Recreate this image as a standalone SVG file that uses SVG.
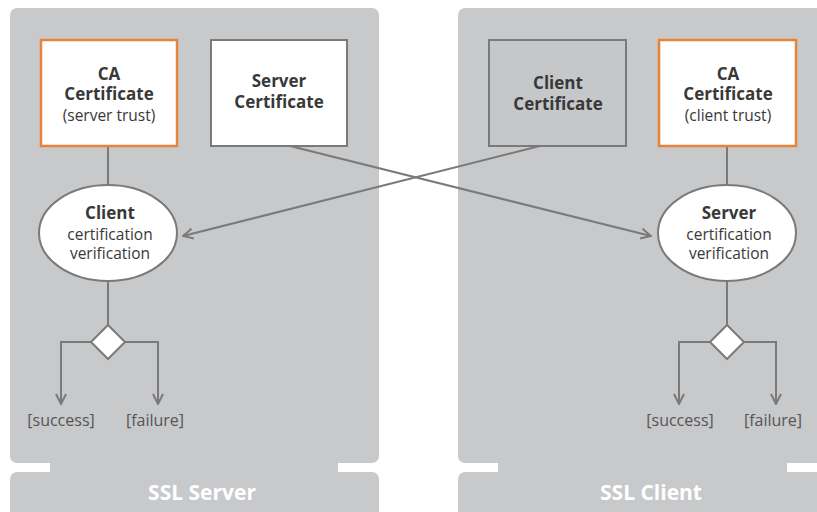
<svg xmlns="http://www.w3.org/2000/svg" width="817" height="512" viewBox="0 0 817 512">
<defs>
<style>
.panel{fill:#c8c9cb}
.line{fill:none;stroke:#7a7a7a;stroke-width:2}
.box{fill:#fff;stroke:#7a7a7a;stroke-width:2}
.ca{fill:#fff;stroke:#e8833a;stroke-width:2.5}
.gbox{fill:#c6c7c9;stroke:#7a7a7a;stroke-width:2}
.ell{fill:#fff;stroke:#7a7a7a;stroke-width:2}
.t{font-family:"Open Sans","Liberation Sans",sans-serif;fill:#383838;text-anchor:middle}
.b{font-weight:bold;font-size:17px}
.r{font-size:15.5px}
.lbl{font-size:16px;fill:#555}
.sys{font-family:"Open Sans","Liberation Sans",sans-serif;font-weight:bold;font-size:21px;fill:#fff;text-anchor:middle}
</style>
<marker id="arr" viewBox="0 0 12 12" refX="11" refY="6" markerWidth="12" markerHeight="12" markerUnits="userSpaceOnUse" orient="auto">
<path d="M1,1 L11,6 L1,11" fill="none" stroke="#7a7a7a" stroke-width="2"/>
</marker>
</defs>
<rect width="817" height="512" fill="#fff"/>
<g id="ssl-server">
<rect class="panel" x="10" y="8" width="369" height="455" rx="7"/>
<rect class="panel" x="50" y="455" width="288" height="25"/>
<rect class="panel" x="10" y="472" width="369" height="50" rx="7"/>
<text class="sys" x="202" y="500">SSL Server</text>
</g>
<g id="ssl-client">
<rect class="panel" x="458" y="8" width="370" height="455" rx="7"/>
<rect class="panel" x="498" y="455" width="289" height="25"/>
<rect class="panel" x="458" y="472" width="370" height="50" rx="7"/>
<text class="sys" x="651" y="500">SSL Client</text>
</g>
<g id="connectors">
<line class="line" x1="108" y1="146" x2="108" y2="185"/>
<line class="line" x1="108" y1="281" x2="108" y2="325"/>
<polyline class="line" points="91,342 61,342 61,404" marker-end="url(#arr)"/>
<polyline class="line" points="125,342 158,342 158,404" marker-end="url(#arr)"/>
<line class="line" x1="727" y1="146" x2="727" y2="185"/>
<line class="line" x1="727" y1="281" x2="727" y2="325"/>
<polyline class="line" points="710,342 679,342 679,404" marker-end="url(#arr)"/>
<polyline class="line" points="744,342 776,342 776,404" marker-end="url(#arr)"/>
<line class="line" x1="290" y1="146" x2="651" y2="236" marker-end="url(#arr)"/>
<line class="line" x1="540" y1="146" x2="183" y2="236" marker-end="url(#arr)"/>
</g>
<g id="ca-server-trust">
<rect class="ca" x="41" y="40" width="136" height="106"/>
<text class="t b" x="109" y="80">CA</text>
<text class="t b" x="109" y="100">Certificate</text>
<text class="t r" x="109" y="121">(server trust)</text>
</g>
<g id="server-certificate">
<rect class="box" x="211" y="40" width="136" height="106"/>
<text class="t b" x="279" y="87">Server</text>
<text class="t b" x="279" y="108">Certificate</text>
</g>
<g id="client-certificate">
<rect class="gbox" x="489" y="40" width="137" height="106"/>
<text class="t b" x="558" y="89">Client</text>
<text class="t b" x="558" y="110">Certificate</text>
</g>
<g id="ca-client-trust">
<rect class="ca" x="659" y="40" width="137" height="106"/>
<text class="t b" x="728" y="80">CA</text>
<text class="t b" x="728" y="100">Certificate</text>
<text class="t r" x="728" y="121">(client trust)</text>
</g>
<g id="client-verification">
<ellipse class="ell" cx="108" cy="233" rx="69" ry="48"/>
<text class="t b" x="110" y="219">Client</text>
<text class="t r" x="110" y="240">certification</text>
<text class="t r" x="110" y="259">verification</text>
</g>
<g id="server-verification">
<ellipse class="ell" cx="727" cy="233" rx="69" ry="48"/>
<text class="t b" x="729" y="219">Server</text>
<text class="t r" x="729" y="240">certification</text>
<text class="t r" x="729" y="259">verification</text>
</g>
<g id="server-decision">
<polygon points="108,325 125,342 108,359 91,342" fill="#fff" stroke="#7a7a7a" stroke-width="2"/>
<text class="t lbl" x="61" y="426">[success]</text>
<text class="t lbl" x="155" y="426">[failure]</text>
</g>
<g id="client-decision">
<polygon points="727,325 744,342 727,359 710,342" fill="#fff" stroke="#7a7a7a" stroke-width="2"/>
<text class="t lbl" x="680" y="426">[success]</text>
<text class="t lbl" x="773" y="426">[failure]</text>
</g>
</svg>
